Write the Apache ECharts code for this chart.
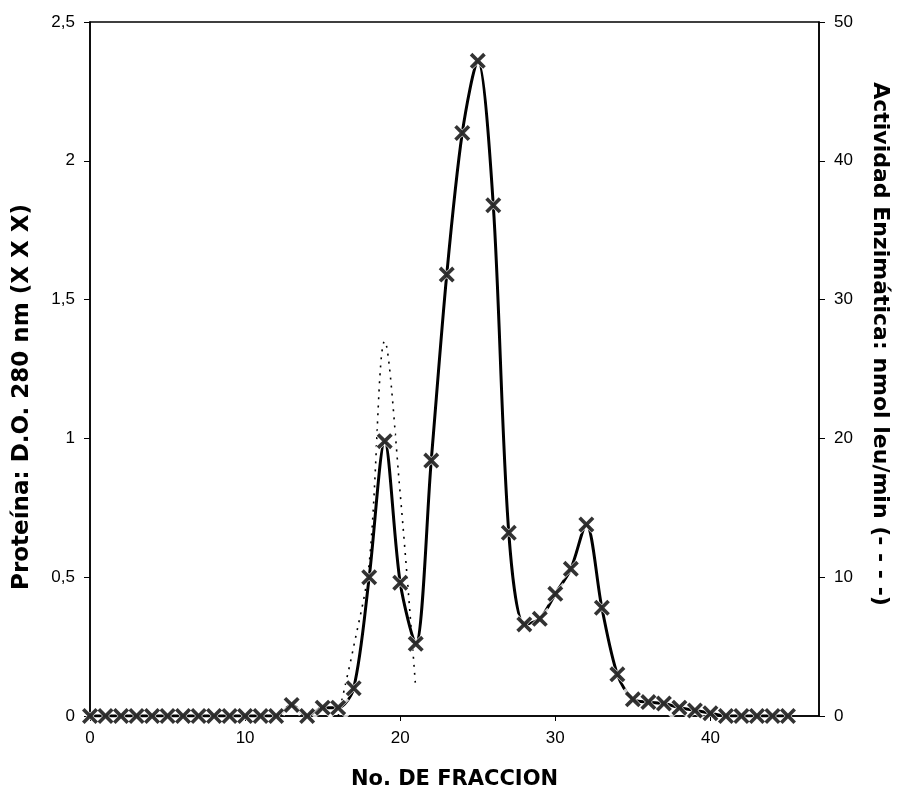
<!DOCTYPE html>
<html>
<head>
<meta charset="utf-8">
<script src="https://cdn.jsdelivr.net/npm/echarts@6/dist/echarts.min.js"></script>
<style>
  html, body { margin: 0; padding: 0; background: #fff; overflow: hidden; }
  #chart { width: 901px; height: 795px; }
</style>
</head>
<body>
<div id="chart"></div>
<script>
// ---- data ----
const fractions = [0,1,2,3,4,5,6,7,8,9,10,11,12,13,14,15,16,17,18,19,20,21,22,23,24,25,26,27,28,29,30,31,32,33,34,35,36,37,38,39,40,41,42,43,44,45];
const protein   = [0,0,0,0,0,0,0,0,0,0,0,0,0,0.04,0,0.03,0.03,0.10,0.50,0.99,0.48,0.26,0.92,1.59,2.10,2.36,1.84,0.66,0.33,0.35,0.44,0.53,0.69,0.39,0.15,0.06,0.05,0.045,0.03,0.02,0.01,0,0,0,0,0];
const activityFractions = [16,17,18,19,20,21];
const activity          = [0,5,11,27,16,2];
const xTickLabels     = ['0','10','20','30','40'];
const leftTickLabels  = ['0','0,5','1','1,5','2','2,5'];
const rightTickLabels = ['0','10','20','30','40','50'];

const proteinPoints  = fractions.map((f, i) => [f, protein[i]]);
const activityPoints = activityFractions.map((f, i) => [f, activity[i]]);

const XPATH = 'path://M0,1.6 L1.6,0 L5,3.4 L8.4,0 L10,1.6 L6.6,5 L10,8.4 L8.4,10 L5,6.6 L1.6,10 L0,8.4 L3.4,5 Z';
const FONT = '"Liberation Sans", Arial, Helvetica, sans-serif';
const TFONT = '"DejaVu Sans", Verdana, sans-serif';

const chart = echarts.init(document.getElementById('chart'), null, { renderer: 'canvas' });
chart.setOption({
  backgroundColor: '#fff',
  animation: false,
  textStyle: { fontFamily: FONT, color: '#000' },
  grid: { left: 90, right: 82, top: 22, bottom: 73, show: true, borderColor: '#000', borderWidth: 1.5, backgroundColor: 'transparent' },
  xAxis: {
    type: 'value', min: 0, max: 47, interval: 10,
    name: 'No. DE FRACCION', nameLocation: 'middle', nameGap: 53,
    nameTextStyle: { fontFamily: TFONT, fontWeight: 'bold', fontSize: 21, color: '#000' },
    axisLine: { show: true, onZero: false, lineStyle: { color: '#000', width: 1.5 } },
    axisTick: { show: true, length: 5, lineStyle: { color: '#000', width: 1 } },
    axisLabel: {
      fontFamily: FONT, fontSize: 17, color: '#000', margin: 14, showMaxLabel: false,
      formatter: v => (v % 10 === 0 ? xTickLabels[v / 10] : '')
    },
    splitLine: { show: false }
  },
  yAxis: [
    {
      type: 'value', min: 0, max: 2.5, interval: 0.5, position: 'left',
      name: 'Proteína: D.O. 280 nm (X X X)', nameLocation: 'middle', nameGap: 56, nameRotate: 90,
      nameTextStyle: { fontFamily: TFONT, fontWeight: 'bold', fontSize: 23, color: '#000', padding: [0, 56, 0, 0] },
      axisLine: { show: true, lineStyle: { color: '#000', width: 1.5 } },
      axisTick: { show: true, length: 6, lineStyle: { color: '#000', width: 1 } },
      axisLabel: { fontFamily: FONT, fontSize: 17, color: '#000', margin: 15,
        formatter: v => leftTickLabels[Math.round(v / 0.5)] },
      splitLine: { show: false }
    },
    {
      type: 'value', min: 0, max: 50, interval: 10, position: 'right',
      name: 'Actividad Enzimática: nmol leu/min (- - - -)', nameLocation: 'middle', nameGap: 50, nameRotate: -90,
      nameTextStyle: { fontFamily: TFONT, fontWeight: 'bold', fontSize: 22, color: '#000', padding: [0, 50, 0, 0] },
      axisLine: { show: true, lineStyle: { color: '#000', width: 1.5 } },
      axisTick: { show: true, length: 6, lineStyle: { color: '#000', width: 1 } },
      axisLabel: { fontFamily: FONT, fontSize: 17, color: '#000', margin: 15,
        formatter: v => rightTickLabels[Math.round(v / 10)] },
      splitLine: { show: false }
    }
  ],
  series: [
    {
      name: 'Actividad', type: 'line', yAxisIndex: 1, data: activityPoints,
      smooth: 0.35, showSymbol: false, symbol: 'none',
      lineStyle: { color: '#000', width: 1.6, type: [2, 6] }, z: 2
    },
    {
      name: 'Proteína', type: 'line', yAxisIndex: 0, data: proteinPoints,
      smooth: 0.3, showSymbol: false, symbol: 'none',
      lineStyle: { color: '#000', width: 3 }, z: 3
    },
    {
      name: 'halo', type: 'scatter', yAxisIndex: 0, data: proteinPoints,
      symbol: XPATH, symbolSize: 22, itemStyle: { color: '#fff' }, z: 4, silent: true
    },
    {
      name: 'marcas', type: 'scatter', yAxisIndex: 0, data: proteinPoints,
      symbol: XPATH, symbolSize: 16, itemStyle: { color: '#000' }, z: 5
    }
  ]
});
</script>
</body>
</html>
